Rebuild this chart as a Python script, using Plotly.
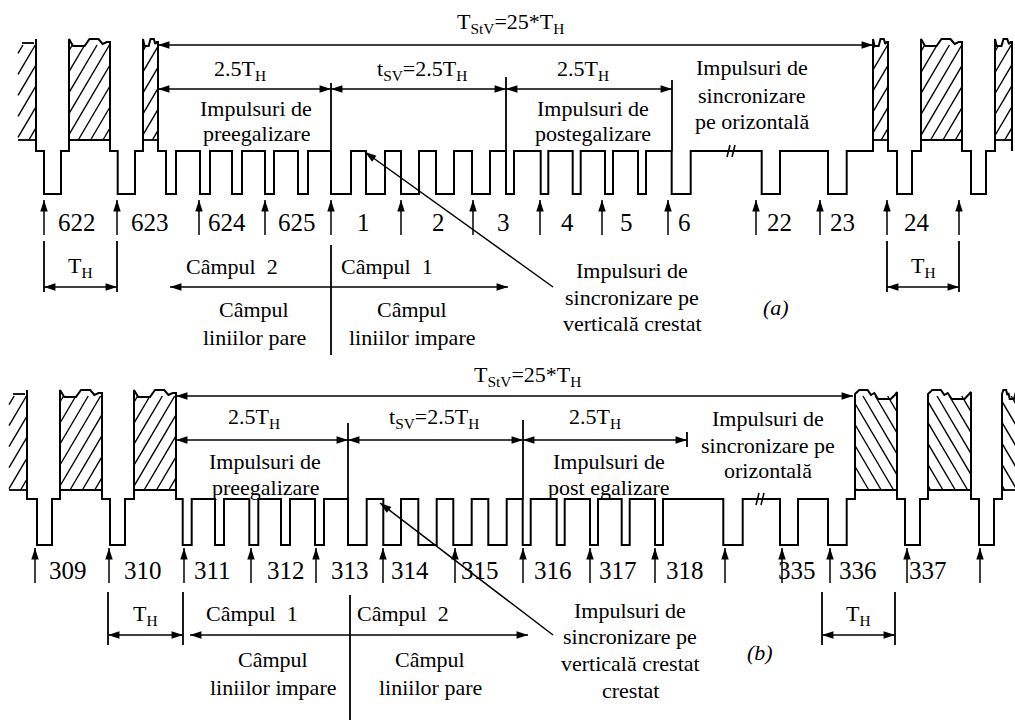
import math
import plotly.graph_objects as go

W, H = 1015, 720
FONT = "Liberation Serif"
FS = 22
NUM_FS = 25

# ---------------- Panel (a) data ----------------
A_LEVEL = dict(top=39, white=140, blank=151, sync=194)
A_HSYNC = [(44, 61), (117.7, 135), (671.7, 690.7), (761.7, 780), (828, 846.7), (897, 912), (971, 986)]
A_EQ = [(166, 176), (200, 210), (232, 242), (265, 274), (298, 308),
        (506, 514), (540.7, 548.3), (572.7, 580.7), (605, 613), (638, 646)]
A_VSYNC = [(331, 351), (366, 385), (401, 419), (436, 454), (472, 490)]
A_VIDEO = [(18, 36), (69, 110), (143, 158), (873, 888), (921, 962), (995, 1012)]
A_HATCH = ['/', '/', '/', '/', '/', '/']
A_BREAK_X = 731
A_LINE_ARROW_X = [44, 117, 199, 265, 331, 401, 473, 540, 602, 668, 756, 820, 887, 959]
A_LINE_LABELS = ["622", "623", "624", "625", "1", "2", "3", "4", "5", "6", "22", "23", "24"]
A_LINE_LABEL_X = [77, 150, 227, 297, 363, 438, 503, 567, 626, 684, 779, 842, 917]
A_TOTAL = (158, 873)
A_SECTIONS = [158, 331, 506, 672]
A_SECTION_LABELS = ["2.5T<sub>H</sub>", "t<sub>SV</sub>=2.5T<sub>H</sub>", "2.5T<sub>H</sub>"]
A_SECTION_LABEL_X = [240, 422, 583]
A_TH_LEFT = (44, 117)
A_TH_RIGHT = (887, 959)
A_FIELD = (170, 508, 331)
A_FIELD_LABELS = ["Câmpul\u00a0 2", "Câmpul\u00a0 1"]
A_FIELD_LABEL_X = [232, 387]
A_PARITY = [["Câmpul", "liniilor pare"], ["Câmpul", "liniilor impare"]]
A_PARITY_X = [254, 412]

# ---------------- Panel (b) data ----------------
B_LEVEL = dict(top=390, white=490, blank=499, sync=545)
B_HSYNC = [(37, 52), (110, 125), (723.3, 742.7), (780, 798), (828, 846.7), (905, 920), (979, 994)]
B_EQ = [(182.7, 191.7), (215, 224), (249.3, 258.3), (281, 290), (315, 324),
        (522.7, 530.7), (556.7, 564.7), (590, 598), (621.7, 629.7), (655, 663)]
B_VSYNC = [(348, 366.7), (383.3, 401), (418.3, 436.7), (453.3, 471.7), (488.3, 506.7)]
B_VIDEO = [(9, 27), (60, 102), (134, 176), (855, 897), (928, 971), (1002, 1016)]
B_HATCH = ['/', '/', '/', '\\', '\\', '\\']
B_BREAK_X = 760
B_LINE_ARROW_X = [35, 109, 184, 251, 316, 383, 455, 523, 590, 655, 725, 782, 830, 907, 980]
B_LINE_LABELS = ["309", "310", "311", "312", "313", "314", "315", "316", "317", "318", "335", "336", "337"]
B_LINE_LABEL_X = [68, 143, 212, 286, 350, 410, 480, 553, 618, 685, 797, 858, 928]
B_TOTAL = (176, 853)
B_SECTIONS = [176, 348, 523, 687]
B_SECTION_LABELS = ["2.5T<sub>H</sub>", "t<sub>SV</sub>=2.5T<sub>H</sub>", "2.5T<sub>H</sub>"]
B_SECTION_LABEL_X = [254, 434, 595]
B_TH_LEFT = (108, 183)
B_TH_RIGHT = (822, 895)
B_FIELD = (190, 528, 350)
B_FIELD_LABELS = ["Câmpul\u00a0 1", "Câmpul\u00a0 2"]
B_FIELD_LABEL_X = [252, 403]
B_PARITY = [["Câmpul", "liniilor impare"], ["Câmpul", "liniilor pare"]]
B_PARITY_X = [273, 430]

# top-edge "video content" outline templates (fraction of width, px below top)
PROFILE_A = [(0, 0), (0.1, 7), (0.38, 7), (0.5, 0), (0.72, 0), (0.82, 5), (0.92, 3), (1, 3)]
PROFILE_B = [(0, 4), (0.1, 0), (0.3, 0), (0.38, 5), (0.46, 3), (0.55, 9), (0.85, 9), (0.95, 5), (1, 2)]

fig = go.Figure()

ARROW_SEGS = []   # (x_tail, y_tail, x_tip, y_tip)
HEADS = []        # (x_tip, y_tip, angle)


def waveform(level, pulses, videos, profiles):
    top, white, blank, sync = level['top'], level['white'], level['blank'], level['sync']
    events = [(f, 'p', r, None) for f, r in pulses]
    events += [(s, 'v', e, i) for i, (s, e) in enumerate(videos)]
    events.sort(key=lambda t: t[0])
    xs, ys = [], []
    bx, by = [], []
    for x0, kind, x1, idx in events:
        if kind == 'p':
            xs += [x0, x0, x1, x1]
            ys += [blank, sync, sync, blank]
        else:
            prof = profiles[idx]
            bx += [x0, x1, None]
            by += [white, white, None]
            if idx == 0:
                bx += [x0 + 4, x1 - 2, None]
                by += [top + 4, top + 4, None]
                xs += [x1, x1]
                ys += [top, blank]
            else:
                xs += [x0]
                ys += [blank]
                for fx, dy in prof:
                    xs.append(x0 + fx * (x1 - x0))
                    ys.append(top + dy)
                xs += [x1]
                ys += [blank]
    fig.add_trace(go.Scatter(x=xs, y=ys, mode='lines', line=dict(color='black', width=2),
                             hoverinfo='skip'))
    fig.add_trace(go.Scatter(x=bx, y=by, mode='lines', line=dict(color='black', width=1.8),
                             hoverinfo='skip'))


def hatch(videos, dirs, ytop, ybot, slope=1.7, spacing=21):
    xs, ys = [], []
    for (x0, x1), d in zip(videos, dirs):
        if d == '/':
            k = int((ytop + slope * x0) // spacing)
            c = k * spacing
            while c < ybot + slope * x1:
                xa = max(x0, (c - ybot) / slope)
                xb = min(x1, (c - ytop) / slope)
                if xb > xa:
                    xs += [xa, xb, None]
                    ys += [c - slope * xa, c - slope * xb, None]
                c += spacing
        else:
            k = int((ytop - slope * x1) // spacing) - 1
            c = k * spacing
            while c < ybot - slope * x0:
                xa = max(x0, (ytop - c) / slope)
                xb = min(x1, (ybot - c) / slope)
                if xb > xa:
                    xs += [xa, xb, None]
                    ys += [c + slope * xa, c + slope * xb, None]
                c += spacing
    fig.add_trace(go.Scatter(x=xs, y=ys, mode='lines', line=dict(color='black', width=1.4),
                             hoverinfo='skip'))


def segs(pairs, width=1.6):
    xs, ys = [], []
    for (xa, ya, xb, yb) in pairs:
        xs += [xa, xb, None]
        ys += [ya, yb, None]
    fig.add_trace(go.Scatter(x=xs, y=ys, mode='lines', line=dict(color='black', width=width),
                             hoverinfo='skip'))


def head_angle(xt, yt, xs, ys):
    # screen coords (y down); angle clockwise from "up"
    return math.degrees(math.atan2(xt - xs, -(yt - ys)))


def arrow(xt, yt, xs, ys, both=False):
    ARROW_SEGS.append((xs, ys, xt, yt))
    HEADS.append((xt, yt, head_angle(xt, yt, xs, ys)))
    if both:
        HEADS.append((xs, ys, head_angle(xs, ys, xt, yt)))


def txt(x, y, s, size=FS):
    fig.add_annotation(x=x, y=y, text=s, showarrow=False, xref='x', yref='y',
                       xanchor='center', yanchor='middle',
                       font=dict(family=FONT, size=size, color='black'))


def panel(level, hs, eq, vs, videos, hdirs, profiles, break_x,
          arrow_x, arrow_y, labels, label_x, label_y,
          total, total_y, title_x, title_y, sections, sec_y, sec_labels, sec_label_x, sec_label_y,
          dividers, th_left, th_right, th_y, th_tick, th_label_y,
          field, field_y, field_div, field_labels, field_label_x, field_label_y,
          parity, parity_x, parity_y):
    waveform(level, hs + eq + vs, videos, profiles)
    hatch(videos, hdirs, level['top'] + 6, level['white'])
    b = level['blank']
    segs([(break_x - 4, b + 6, break_x - 1, b - 6), (break_x + 1, b + 6, break_x + 4, b - 6)], 1.5)
    segs(dividers + [(field[2], field_div[0], field[2], field_div[1])] +
         [(x, th_tick[0], x, th_tick[1]) for x in th_left + th_right], 1.8)
    for x in arrow_x:
        arrow(x, arrow_y[0], x, arrow_y[1])
    for s, x in zip(labels, label_x):
        txt(x, label_y, s, NUM_FS)
    arrow(total[1], total_y, total[0], total_y, both=True)
    txt(title_x, title_y, "T<sub>StV</sub>=25*T<sub>H</sub>")
    for i in range(len(sections) - 1):
        arrow(sections[i + 1], sec_y, sections[i], sec_y, both=True)
        txt(sec_label_x[i], sec_label_y, sec_labels[i])
    for a, bb in (th_left, th_right):
        arrow(bb, th_y, a, th_y, both=True)
        txt((a + bb) / 2, th_label_y, "T<sub>H</sub>")
    arrow(field[1], field_y, field[0], field_y, both=True)
    for s, x in zip(field_labels, field_label_x):
        txt(x, field_label_y, s)
    for lines, x in zip(parity, parity_x):
        for s, y in zip(lines, parity_y):
            txt(x, y, s)


# ---------------- Panel (a) ----------------
panel(A_LEVEL, A_HSYNC, A_EQ, A_VSYNC, A_VIDEO, A_HATCH, [PROFILE_A] * 6, A_BREAK_X,
      A_LINE_ARROW_X, (200, 235), A_LINE_LABELS, A_LINE_LABEL_X, 222,
      A_TOTAL, 45, 510, 23, A_SECTIONS, 89, A_SECTION_LABELS, A_SECTION_LABEL_X, 70,
      [(331, 83, 331, 151), (506, 77, 506, 151), (672, 80, 672, 151)],
      A_TH_LEFT, A_TH_RIGHT, 287, (241, 292), 267,
      A_FIELD, 287, (245, 355), A_FIELD_LABELS, A_FIELD_LABEL_X, 266,
      A_PARITY, A_PARITY_X, [309, 337])

txt(256, 108, "Impulsuri de")
txt(256, 133, "preegalizare")
txt(593, 108, "Impulsuri de")
txt(593, 133, "postegalizare")
txt(752, 67, "Impulsuri de")
txt(752, 95, "sincronizare")
txt(752, 121, "pe orizontală")
txt(632, 270, "Impulsuri de")
txt(632, 297, "sincronizare pe")
txt(632, 323, "verticală crestat")
arrow(365, 152, 553, 287)
txt(776, 307, "<i>(a)</i>")

# ---------------- Panel (b) ----------------
panel(B_LEVEL, B_HSYNC, B_EQ, B_VSYNC, B_VIDEO, B_HATCH,
      [PROFILE_A] * 3 + [PROFILE_B] * 3, B_BREAK_X,
      B_LINE_ARROW_X, (548, 583), B_LINE_LABELS, B_LINE_LABEL_X, 570,
      B_TOTAL, 396, 527, 376, B_SECTIONS, 440, B_SECTION_LABELS, B_SECTION_LABEL_X, 418,
      [(348, 423, 348, 499), (523, 420, 523, 499), (687, 432, 687, 447)],
      B_TH_LEFT, B_TH_RIGHT, 635, (592, 645), 615,
      B_FIELD, 635, (595, 720), B_FIELD_LABELS, B_FIELD_LABEL_X, 613,
      B_PARITY, B_PARITY_X, [659, 687])

txt(265, 461, "Impulsuri de")
txt(265, 487, "preegalizare")
txt(609, 461, "Impulsuri de")
txt(609, 487, "post egalizare")
txt(768, 418, "Impulsuri de")
txt(768, 445, "sincronizare pe")
txt(768, 470, "orizontală")
txt(630, 610, "Impulsuri de")
txt(630, 636, "sincronizare pe")
txt(630, 663, "verticală crestat")
txt(630, 690, "crestat")
arrow(380, 503, 553, 635)
txt(760, 652, "<i>(b)</i>")

# arrow shafts and heads
segs(ARROW_SEGS, 1.5)
fig.add_trace(go.Scatter(
    x=[h[0] for h in HEADS], y=[h[1] for h in HEADS], mode='markers',
    marker=dict(symbol='arrow', size=12, angle=[h[2] for h in HEADS], color='black',
                line=dict(width=0)),
    hoverinfo='skip'))

fig.update_layout(
    width=W, height=H, margin=dict(l=0, r=0, t=0, b=0),
    paper_bgcolor='white', plot_bgcolor='white', showlegend=False,
    xaxis=dict(range=[0, W], visible=False, fixedrange=True),
    yaxis=dict(range=[H, 0], visible=False, fixedrange=True),
)

fig.write_html("out.html", config={'displayModeBar': False, 'staticPlot': True},
               post_script="document.body.style.margin='0px';document.body.style.overflow='hidden';")
